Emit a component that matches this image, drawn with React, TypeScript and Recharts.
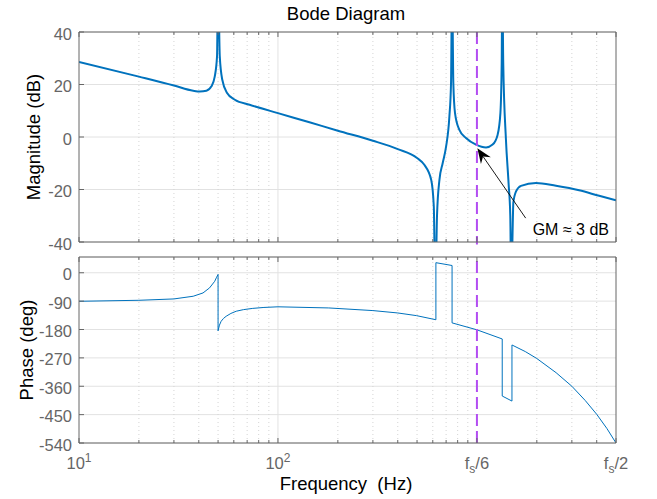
import { LineChart, Line, XAxis, YAxis, CartesianGrid, ReferenceLine } from 'recharts';

// magnitude response (Hz / dB)
const magFreq = [
  10, 20, 30, 37.5, 40.5, 43.7, 46.3, 48.1, 49.4, 50, 51, 52.5, 55.5, 60.7, 72, 100, 144, 200, 300, 400,
  500, 544, 589, 607, 618, 630, 648, 673, 700, 727, 741, 750, 761, 776, 815, 881, 989, 1111, 1199, 1271,
  1312, 1332, 1341, 1356, 1399, 1442, 1471, 1488, 1512, 1524, 1572, 1665, 1980, 2496, 3265, 4115, 5000,
];
const magDb = [
  28.6, 23.0, 19.6, 17.6, 17.3, 17.6, 19.3, 23.0, 30.7, 60, 30.7, 21.8, 16.8, 14.2, 12.3, 9.1, 5.6, 2.4, -1.4, -4.6,
  -8.0, -10.6, -16.3, -26.4, -60, -30, -16.3, -9.9, -3.6, 7.8, 20.6, 60, 20.6, 9.1, 2.8, -0.4, -2.9, -4.0, -2.9, 0.9,
  9.1, 28.2, 60, 28.2, -1, -17.5, -30, -60, -35, -25, -20.7, -18.6, -17.5, -18.6, -20.3, -22.4, -24.1,
];

// phase response (Hz / deg), repeated frequencies are the vertical jumps
const phaseFreq = [
  10, 20, 30, 37.5, 42, 45.3, 48.1, 49, 50, 50, 50.8, 51.8, 53.2, 54.9, 58, 61.7, 67, 74.7, 85, 100,
  180, 300, 400, 497, 622, 622, 750, 750, 1000, 1340, 1340, 1500, 1500, 1750, 2000, 2500, 3000, 3500, 4000, 4500,
  5000,
];
const phaseDeg = [
  -90.5, -87.3, -83, -74.5, -64, -48, -27, -16, -5.4, -184, -166, -154, -145, -138, -129, -122, -117, -113, -110, -108,
  -111.6, -120, -127.5, -136, -149, 32, 23, -159, -181, -210, -391, -407, -229, -250, -272, -317, -360, -405, -449, -494,
  -540,
];

const freqTicks = [10, 100, 1000, 5000];
const freqTickLabels = ['10^1', '10^2', 'f_s/6', 'f_s/2'];
const minorFreqs = [20, 30, 40, 50, 60, 70, 80, 90, 200, 300, 400, 500, 600, 700, 800, 900, 2000, 3000, 4000];
const magTicks = [-40, -20, 0, 20, 40];
const phaseTicks = [-540, -450, -360, -270, -180, -90, 0];

const markerFreq = 1000;

const magData = magFreq.map((f, i) => ({ f, db: magDb[i] }));
const phaseData = phaseFreq.map((f, i) => ({ f, deg: phaseDeg[i] }));
const allFreqTicks = [...freqTicks, ...minorFreqs].sort((a, b) => a - b);

const FONT = '"Liberation Sans", Arial, Helvetica, sans-serif';
const AXIS = '#666666';
const BLUE = '#0072BD';
const PURPLE = '#B34DF2';
const GRID = '#e2e2e2';
const TICK_FONT = 16.5;

function freqLabel(label: string, x: number, y: number) {
  if (label.includes('^')) {
    const [base, sup] = label.split('^');
    return (
      <text x={x} y={y} textAnchor="middle" fill={AXIS} fontSize={TICK_FONT} fontFamily={FONT}>
        <tspan>{base}</tspan>
        <tspan dy={-7} fontSize={12}>{sup}</tspan>
      </text>
    );
  }
  const [base, rest] = label.split('_');
  return (
    <text x={x} y={y} textAnchor="middle" fill={AXIS} fontSize={TICK_FONT} fontFamily={FONT}>
      <tspan>{base}</tspan>
      <tspan dy={4} fontSize={12}>{rest[0]}</tspan>
      <tspan dy={-4}>{rest.slice(1)}</tspan>
    </text>
  );
}

// inward tick marks, MATLAB style; dir = +1 points down, -1 points up
const xTick = (dir: number, showLabel: boolean) => (props: any) => {
  const { x, y, payload } = props;
  const idx = freqTicks.indexOf(payload.value);
  const len = idx >= 0 ? 5 : 3;
  return (
    <g>
      <line x1={x} y1={y} x2={x} y2={y + dir * len} stroke={AXIS} />
      {showLabel && idx >= 0 && freqLabel(freqTickLabels[idx], x, y + 26)}
    </g>
  );
};

const yTick = (dir: number, showLabel: boolean) => (props: any) => {
  const { x, y, payload } = props;
  return (
    <g>
      <line x1={x} y1={y} x2={x + dir * 5} y2={y} stroke={AXIS} />
      {showLabel && (
        <text x={x - 7} y={y + 1.5} textAnchor="end" dominantBaseline="central" fill={AXIS} fontSize={TICK_FONT} fontFamily={FONT}>
          {payload.value}
        </text>
      )}
    </g>
  );
};

function GmArrow(props: any) {
  const { x1, y1, x2, y2 } = props;
  const dx = x2 - x1;
  const dy = y2 - y1;
  const d = Math.sqrt(dx * dx + dy * dy);
  const ux = dx / d;
  const uy = dy / d;
  const nx = -uy;
  const ny = ux;
  const bx = x2 - 15 * ux;
  const by = y2 - 15 * uy;
  const head = [
    [x2, y2],
    [bx + 6 * nx, by + 6 * ny],
    [x2 - 10 * ux, y2 - 10 * uy],
    [bx - 6 * nx, by - 6 * ny],
  ]
    .map((p) => p.join(','))
    .join(' ');
  return (
    <g>
      <line x1={x1} y1={y1} x2={x2 - 10 * ux} y2={y2 - 10 * uy} stroke="#000" strokeWidth={0.9} />
      <polygon points={head} fill="#000" />
      <text x={x1 + 7} y={y1 + 16.5} fontSize={16} fontFamily={FONT} fill="#000">
        GM ≈ 3 dB
      </text>
    </g>
  );
}

// axes of size 1 so recharts still draws them (size 0 gets skipped)
const xCommon = {
  dataKey: 'f',
  type: 'number' as const,
  scale: 'log' as const,
  domain: [10, 5000],
  allowDataOverflow: true,
  ticks: allFreqTicks,
  interval: 0 as const,
  height: 1,
  tickSize: 0,
  tickMargin: 0,
  stroke: AXIS,
};

export default function App() {
  return (
    <div style={{ position: 'absolute', left: 0, top: 0, width: 657, height: 499, background: '#fff', fontFamily: FONT }}>
      <div style={{ position: 'absolute', left: 0, top: 0 }}>
        <LineChart width={657} height={257} data={magData} margin={{ top: 31, right: 40, bottom: 14, left: 0 }}>
          <CartesianGrid vertical={false} stroke={GRID} />
          {minorFreqs.map((f) => (
            <ReferenceLine key={`m${f}`} x={f} stroke="#d4d4d4" strokeDasharray="1 3" />
          ))}
          <ReferenceLine x={100} stroke={GRID} />
          <XAxis {...xCommon} tick={xTick(-1, false)} />
          <XAxis {...xCommon} xAxisId="top" orientation="top" tick={xTick(1, false)} />
          <YAxis type="number" domain={[-40, 40]} ticks={magTicks} interval={0} allowDataOverflow width={79} tickSize={0} tickMargin={0} stroke={AXIS} tick={yTick(1, true)} />
          <YAxis yAxisId="right" orientation="right" type="number" domain={[-40, 40]} ticks={magTicks} interval={0} width={1} tickSize={0} tickMargin={0} stroke={AXIS} tick={yTick(-1, false)} />
          <Line type="monotone" dataKey="db" stroke={BLUE} strokeWidth={2} dot={false} activeDot={false} isAnimationActive={false} />
          <ReferenceLine
            segment={[{ x: markerFreq, y: 40 }, { x: markerFreq, y: -41 }]}
            stroke={PURPLE}
            strokeWidth={2}
            strokeDasharray="12 5"
            ifOverflow="visible"
          />
          <ReferenceLine segment={[{ x: 1758, y: -30.9 }, { x: 1005, y: -4.3 }]} ifOverflow="visible" shape={GmArrow} />
        </LineChart>
      </div>
      <div style={{ position: 'absolute', left: 0, top: 250 }}>
        <LineChart width={657} height={249} data={phaseData} margin={{ top: 6, right: 40, bottom: 55, left: 0 }}>
          <CartesianGrid vertical={false} stroke={GRID} />
          {minorFreqs.map((f) => (
            <ReferenceLine key={`m${f}`} x={f} stroke="#d4d4d4" strokeDasharray="1 3" />
          ))}
          <ReferenceLine x={100} stroke={GRID} />
          <XAxis {...xCommon} tick={xTick(-1, true)} />
          <XAxis {...xCommon} xAxisId="top" orientation="top" tick={xTick(1, false)} />
          <YAxis type="number" domain={[-540, 50]} ticks={phaseTicks} interval={0} allowDataOverflow width={79} tickSize={0} tickMargin={0} stroke={AXIS} tick={yTick(1, true)} />
          <YAxis yAxisId="right" orientation="right" type="number" domain={[-540, 50]} ticks={phaseTicks} interval={0} width={1} tickSize={0} tickMargin={0} stroke={AXIS} tick={yTick(-1, false)} />
          <Line type="linear" dataKey="deg" stroke={BLUE} strokeWidth={1} dot={false} activeDot={false} isAnimationActive={false} />
          <ReferenceLine x={markerFreq} stroke={PURPLE} strokeWidth={2} strokeDasharray="12 5" />
        </LineChart>
      </div>
      <svg width={657} height={499} style={{ position: 'absolute', left: 0, top: 0, pointerEvents: 'none' }}>
        <text x={346} y={20} textAnchor="middle" fontSize={18.5} fontFamily={FONT} fill="#000">
          Bode Diagram
        </text>
        <text transform="translate(40,137) rotate(-90)" textAnchor="middle" fontSize={18.5} fontFamily={FONT} fill="#000">
          Magnitude (dB)
        </text>
        <text transform="translate(32.5,350) rotate(-90)" textAnchor="middle" fontSize={18.5} fontFamily={FONT} fill="#000">
          Phase (deg)
        </text>
        <text x={346} y={490} textAnchor="middle" fontSize={18.5} fontFamily={FONT} fill="#000" style={{ whiteSpace: 'pre' }}>
          {'Frequency  (Hz)'}
        </text>
      </svg>
    </div>
  );
}
